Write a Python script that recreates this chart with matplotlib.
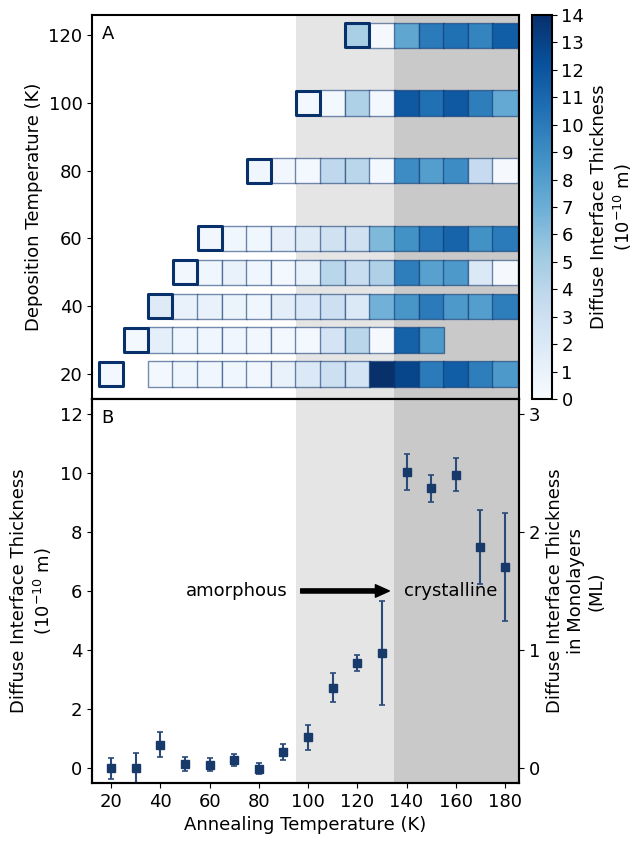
import matplotlib.pyplot as plt
import numpy as np

# deposition rows (K) and the thickness measured right after deposition
dep_temps = [20, 30, 40, 50, 60, 80, 100, 120]
dep_values = [0.3, 0.3, 1.8, 0.4, 0.4, 0.5, 0.3, 4.8]

# first annealing step for each row, then thickness in 10 K steps
anneal_start = [40, 40, 50, 60, 70, 90, 110, 130]
row_20 = [0.3, 0.5, 0.5, 0.5, 0.4, 1.0, 2.0, 3.0, 2.5, 14.0, 12.8, 10.0, 11.5, 9.8, 8.3]
row_30 = [1.3, 0.5, 0.5, 0.5, 0.4, 0.3, 0.3, 2.5, 4.0, 0.2, 11.3, 8.3]
row_40 = [1.0, 1.0, 0.8, 0.5, 1.4, 2.0, 3.0, 2.0, 6.8, 8.5, 10.0, 8.3, 8.0, 9.8]
row_50 = [0.5, 1.0, 0.5, 0.3, 1.0, 4.0, 3.3, 4.5, 9.8, 7.8, 8.3, 2.0, 0.2]
row_60 = [0.5, 0.5, 1.2, 1.8, 2.8, 2.8, 6.3, 8.7, 10.3, 11.2, 8.7, 10.0]
row_80 = [0.4, 0.3, 3.8, 4.0, 0.3, 9.0, 8.0, 9.0, 3.5, 0.2]
row_100 = [0.3, 4.5, 0.3, 11.8, 10.5, 11.8, 9.8, 7.3]
row_120 = [0.2, 7.5, 10.0, 10.5, 9.5, 11.5]
rows = [row_20, row_30, row_40, row_50, row_60, row_80, row_100, row_120]

# averaged thickness per annealing temperature
b_temps = [20, 30, 40, 50, 60, 70, 80, 90, 100, 110, 120, 130, 140, 150, 160, 170, 180]
b_thick = [0.0, 0.0, 0.79, 0.14, 0.11, 0.29, -0.02, 0.55, 1.05, 2.73, 3.56, 3.89,
           10.03, 9.47, 9.94, 7.48, 6.82]
b_err = [0.35, 0.5, 0.42, 0.25, 0.22, 0.2, 0.19, 0.27, 0.42, 0.49, 0.28, 1.76,
         0.62, 0.45, 0.57, 1.25, 1.83]

ang_per_ml = 4.0
navy = '#08306b'
fs = 13

fig = plt.figure(figsize=(6.4, 8.41), dpi=100)
ax_a = fig.add_axes([0.144, 0.5256, 0.667, 0.4566])
ax_b = fig.add_axes([0.144, 0.069, 0.667, 0.4566], sharex=ax_a)
cax = fig.add_axes([0.831, 0.5256, 0.031, 0.4566])

for ax in (ax_a, ax_b):
    ax.axvspan(95, 135, color='#e5e5e5', lw=0, zorder=0)
    ax.axvspan(135, 190, color='#c9c9c9', lw=0, zorder=0)

# panel A: annealed squares
xs, ys, cs = [], [], []
for dep, start, vals in zip(dep_temps, anneal_start, rows):
    for i, v in enumerate(vals):
        xs.append(start + 10 * i)
        ys.append(dep)
        cs.append(v)
sc = ax_a.scatter(xs, ys, c=cs, cmap='Blues', vmin=0, vmax=14, marker='s', s=330,
                  edgecolors=(0.03, 0.19, 0.42, 0.55), linewidths=1.0, zorder=2)
ax_a.scatter(dep_temps, dep_temps, c=dep_values, cmap='Blues', vmin=0, vmax=14,
             marker='s', s=300, edgecolors=navy, linewidths=2.2, zorder=3)

ax_a.set_xlim(12.3, 185.7)
ax_a.set_ylim(12.6, 126)
ax_a.set_yticks([20, 40, 60, 80, 100, 120])
ax_a.set_ylabel('Deposition Temperature (K)', fontsize=fs)
ax_a.tick_params(labelsize=fs, labelbottom=False)
ax_a.text(0.022, 0.975, 'A', transform=ax_a.transAxes, fontsize=fs, va='top')

cb = fig.colorbar(sc, cax=cax, ticks=range(15))
cb.ax.tick_params(labelsize=fs)
cb.set_label('Diffuse Interface Thickness\n(10$^{-10}$ m)', fontsize=fs)

# panel B: averages with errors
ax_b.errorbar(b_temps, b_thick, yerr=b_err, fmt='s', ms=5.5, color='#173a6b',
              ecolor='#2a4a7a', elinewidth=1.5, capsize=2.5, capthick=1.2, zorder=3)
ax_b.set_ylim(-0.5, 12.5)
ax_b.set_yticks(range(0, 13, 2))
ax_b.set_xticks(range(20, 181, 20))
ax_b.set_xlabel('Annealing Temperature (K)', fontsize=fs)
ax_b.set_ylabel('Diffuse Interface Thickness\n(10$^{-10}$ m)', fontsize=fs)
ax_b.tick_params(labelsize=fs)
ax_b.text(0.022, 0.975, 'B', transform=ax_b.transAxes, fontsize=fs, va='top')

ax_b.text(71, 6, 'amorphous', fontsize=fs, ha='center', va='center')
ax_b.text(158, 6, 'crystalline', fontsize=fs, ha='center', va='center')
ax_b.annotate('', xy=(133, 6), xytext=(97, 6),
              arrowprops=dict(facecolor='black', edgecolor='black', width=3,
                              headwidth=9, headlength=10))

ax_ml = ax_b.twinx()
ax_ml.set_ylim(-0.5 / ang_per_ml, 12.5 / ang_per_ml)
ax_ml.set_yticks([0, 1, 2, 3])
ax_ml.tick_params(labelsize=fs)
ax_ml.set_ylabel('Diffuse Interface Thickness\nin Monolayers\n(ML)', fontsize=fs)

for ax in (ax_a, ax_b, ax_ml, cax):
    for sp in ax.spines.values():
        sp.set_linewidth(1.5)

fig.savefig('out.png', dpi=100)
